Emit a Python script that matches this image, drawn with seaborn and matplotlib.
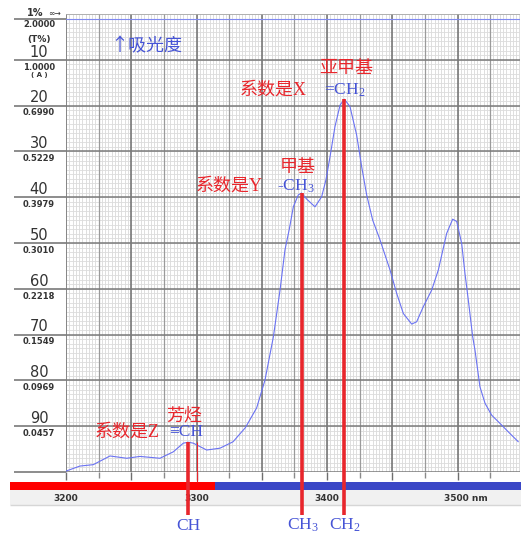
import matplotlib
matplotlib.use("Agg")
import matplotlib.pyplot as plt
from matplotlib.patches import Rectangle
import numpy as np
import seaborn as sns
import pandas as pd

# spectrum: wavelength (nm) vs transmittance (%)
wavelength = [3200.0, 3210.7, 3220.9, 3233.7, 3246.5, 3256.7, 3272.0, 3282.2,
              3289.9, 3293.7, 3297.5, 3307.8, 3318.0, 3328.0, 3337.5, 3346.1,
              3352.5, 3358.9, 3364.0, 3367.8, 3371.1, 3374.2, 3378.0, 3380.5,
              3384.4, 3390.8, 3395.9, 3399.2, 3402.3, 3406.1, 3410.0, 3413.3,
              3417.6, 3422.7, 3426.6, 3430.4, 3435.0, 3440.6, 3448.3, 3453.4,
              3458.5, 3464.9, 3468.7, 3473.8, 3480.2, 3485.3, 3491.7, 3496.3,
              3499.4, 3503.2, 3505.7, 3508.3, 3511.6, 3513.4, 3517.2, 3521.1,
              3526.2, 3532.6, 3540.2, 3546.6]
transmittance = [99.8, 98.7, 98.4, 96.5, 97.0, 96.6, 97.0, 95.6,
                 93.7, 93.5, 93.7, 95.2, 94.8, 93.4, 90.3, 86.0,
                 79.9, 70.5, 60.3, 51.5, 47.0, 42.1, 39.5, 39.1,
                 40.4, 42.1, 39.9, 36.2, 31.2, 24.6, 19.9, 18.6,
                 20.2, 26.4, 33.4, 39.5, 45.0, 49.3, 55.9, 61.0,
                 65.4, 67.7, 67.2, 63.9, 60.3, 55.9, 47.9, 44.8,
                 45.3, 50.1, 56.6, 62.5, 70.4, 73.4, 81.4, 85.0,
                 87.6, 89.4, 91.6, 93.4]

# marked peaks
peak_nm = [3293.5, 3380.7, 3413.3]
peak_T = [93.5, 39.1, 18.6]
peak_names = ['CH', 'CH$_3$', 'CH$_2$']
group_names = ['芳烃', '甲基', '亚甲基']
bond_labels = ['≡CH', '-CH$_3$', '=CH$_2$']
coef_labels = ['系数是Z', '系数是Y', '系数是X']

# left scale: transmittance and matching absorbance
t_labels = [10, 20, 30, 40, 50, 60, 70, 80, 90]
a_labels = ['1.0000', '0.6990', '0.5229', '0.3979', '0.3010',
            '0.2218', '0.1549', '0.0969', '0.0457']
x_ticklabels = [3200, 3300, 3400, 3500]

RED = '#e8262c'
BLUE = '#4654d6'
CURVE = '#6a72f2'

sns.set_style('white')
plt.rcParams['font.family'] = ['DejaVu Sans', 'Noto Sans CJK SC']
plt.rcParams['mathtext.fontset'] = 'custom'
plt.rcParams['mathtext.rm'] = 'Liberation Serif'
plt.rcParams['mathtext.it'] = 'Liberation Serif:italic'
plt.rcParams['mathtext.bf'] = 'Liberation Serif:bold'
serif_cjk = ['Liberation Serif', 'DejaVu Serif', 'Noto Sans CJK SC']
sans_cjk = ['Noto Sans CJK SC', 'DejaVu Sans']

W, H = 521, 539
fig = plt.figure(figsize=(W / 100, H / 100), dpi=100)
ax = fig.add_axes([66 / W, 67 / H, 454 / W, 458 / H])
ax.set_xlim(3200, 3200 + 454 / 1.305)
ax.set_ylim(100, 0)
for s in ax.spines.values():
    s.set_visible(False)
ax.set_yticks([])

# graph paper grid
for x in np.arange(3200, 3550, 2.5):
    ax.axvline(x, color='#d9d9d9', lw=0.6, zorder=0)
for y in np.arange(0, 101, 1):
    ax.axhline(y, color='#dcdcdc', lw=0.6, zorder=0)
for x in np.arange(3225, 3550, 50):
    ax.axvline(x, color='#9a9a9a', lw=0.9, zorder=0.5)
for x in np.arange(3200, 3550, 50):
    ax.axvline(x, color='#6e6e6e', lw=1.1, zorder=0.6)
for y in range(10, 101, 10):
    ax.axhline(y, color='#7a7a7a', lw=1.1, zorder=0.6)
ax.axhline(0, color='#a8a8a8', lw=1.2, zorder=0.6)
ax.axhline(1, color='#7f88f0', lw=0.8, zorder=1)

# ticks below the paper
ax.set_xticks(np.arange(3200, 3550, 50))
ax.set_xticks(np.arange(3225, 3550, 50), minor=True)
ax.tick_params(axis='x', which='major', bottom=True, length=6, width=1,
               color='#6e6e6e', direction='out', labelbottom=False)
ax.tick_params(axis='x', which='minor', bottom=True, length=4, width=1,
               color='#8a8a8a', direction='out')

# left scale lines and labels
x_left = 3200 - 52 / 1.305
x_lab = 3200 - 27 / 1.305
ax.hlines([1] + list(range(10, 101, 10)), x_left, 3200, color='#6e6e6e',
          lw=1.1, clip_on=False)
for t, a in zip(t_labels, a_labels):
    ax.text(x_lab, t - 1.7, str(t), ha='center', va='center', fontsize=10.5,
            color='#333333', clip_on=False)
    ax.text(x_lab, t + 1.6, a, ha='center', va='center', fontsize=6,
            fontweight='bold', color='#333333', clip_on=False)
ax.text(x_lab - 3, -0.2, '1%', ha='center', va='center', fontsize=7,
        fontweight='bold', color='#333333', clip_on=False)
ax.text(3200 - 4, -0.1, '∞→', ha='right', va='center', fontsize=5.5,
        color='#333333', clip_on=False)
ax.text(x_lab, 2.2, '2.0000', ha='center', va='center', fontsize=6,
        fontweight='bold', color='#333333', clip_on=False)
ax.text(x_lab, 5.6, '(T%)', ha='center', va='center', fontsize=6.5,
        fontweight='bold', color='#333333', clip_on=False)
ax.text(x_lab, 13.4, '( A )', ha='center', va='center', fontsize=5,
        fontweight='bold', color='#333333', clip_on=False)

# colour bar and wavelength labels under the paper
px = 1 / 1.305
ax.add_patch(Rectangle((3200 - 56 * px, 103.9), 511 * px, 3.3,
                       facecolor='#f1f1f1', edgecolor='none', clip_on=False))
ax.hlines(107.1, 3200 - 56 * px, 3200 + 455 * px, color='#d6d6d6', lw=1,
          clip_on=False)
ax.add_patch(Rectangle((3200 - 56 * px, 102.1), 205 * px, 1.8,
                       facecolor='#ff0000', edgecolor='none', clip_on=False))
ax.add_patch(Rectangle((3200 + 149 * px, 102.1), 306 * px, 1.8,
                       facecolor='#3b47c6', edgecolor='none', clip_on=False))
for v in x_ticklabels:
    last = v == x_ticklabels[-1]
    txt = f'{v} nm' if last else f'{v}'
    xx = v - 14 * px if last else v
    ax.text(xx, 105.7, txt, ha='left' if last else 'center', va='center',
            fontsize=6.5, fontweight='bold', color='#333333', clip_on=False)

# spectrum
df = pd.DataFrame({'nm': wavelength, 'T': transmittance})
sns.lineplot(data=df, x='nm', y='T', ax=ax, color=CURVE, lw=0.8, zorder=3)
ax.set_xlabel('')
ax.set_ylabel('')

# peak markers
ax.vlines(3300, peak_T[0], 102.1, color=RED, lw=0.8, zorder=4, clip_on=False)
ax.vlines(peak_nm, peak_T, 109.4, color=RED, lw=2.6, zorder=4, clip_on=False)
for nm, name in zip(peak_nm, peak_names):
    ax.text(nm + 0.5, 111.7, name, ha='center', va='center', fontsize=12.5,
            color=BLUE, family=serif_cjk, clip_on=False)

# group annotations
group_pos = [(3290.4, 87.6), (3377.8, 33.4), (3414.6, 11.8)]
bond_pos = [(3292, 91.3), (3376, 37.6), (3413.8, 16.6)]
coef_pos = [(3272, 91.3), (3351, 37.6), (3384.7, 16.6)]
for (gx, gy), g in zip(group_pos, group_names):
    ax.text(gx, gy, g, ha='center', va='center', fontsize=13, color=RED,
            family=sans_cjk)
for (bx, by), b in zip(bond_pos, bond_labels):
    ax.text(bx, by, b, ha='center', va='center', fontsize=12.5, color=BLUE,
            family=serif_cjk)
for (cx, cy), c in zip(coef_pos, coef_labels):
    ax.text(cx, cy, c, ha='right', va='center', fontsize=13, color=RED,
            family=serif_cjk)

ax.text(3233.5, 7.0, '↑吸光度', ha='left', va='center', fontsize=13,
        color=BLUE, family=sans_cjk)

fig.savefig('out.png', dpi=100)
